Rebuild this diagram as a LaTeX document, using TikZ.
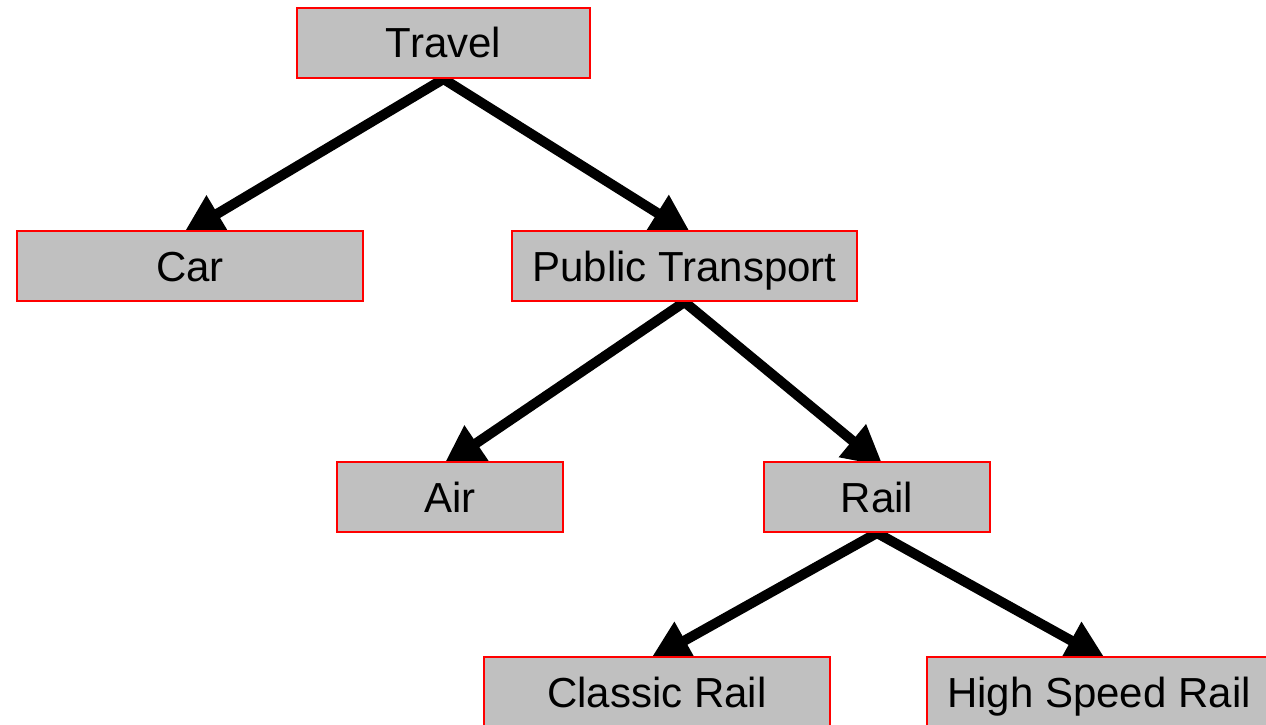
\documentclass[tikz,border=0pt]{standalone}
\usepackage{fontspec}
\setmainfont{Liberation Sans}
\usetikzlibrary{arrows.meta}
\pgfdeclarelayer{bg}
\pgfsetlayers{bg,main}
\definecolor{boxgray}{RGB}{192,192,192}
\begin{document}
\begin{tikzpicture}[x=1pt,y=-1pt,
  box/.style={draw=red, line width=2pt, fill=boxgray, minimum height=70pt,
    inner sep=0pt, text height=30pt, text depth=0pt,
    font=\fontsize{42}{50}\selectfont},
  conn/.style={line width=10pt, shorten >=-8pt,
    -{Triangle[length=40pt,width=40pt]}}]
\useasboundingbox (0,0) rectangle (1266,725);
\clip (0,0) rectangle (1266,725);
\node[box, minimum width=293pt] (travel)  at (443.5,43) {Travel};
\node[box, minimum width=346pt] (car)     at (190,266)  {Car};
\node[box, minimum width=345pt] (pt)      at (684.5,266) {Public Transport};
\node[box, minimum width=226pt] (air)     at (450,497)  {Air};
\node[box, minimum width=226pt] (rail)    at (877,497)  {Rail};
\node[box, minimum width=346pt] (classic) at (657,692)  {Classic Rail};
\node[box, minimum width=344pt] (hsr)     at (1099,692) {High Speed Rail};
\begin{pgfonlayer}{bg}
\draw[conn] (travel.south) -- (car.north);
\draw[conn] (travel.south) -- (pt.north);
\draw[conn] (pt.south) -- (air.north);
\draw[conn] (pt.south) -- (rail.north);
\draw[conn] (rail.south) -- (classic.north);
\draw[conn] (rail.south) -- (hsr.north);
\end{pgfonlayer}
\end{tikzpicture}
\end{document}
